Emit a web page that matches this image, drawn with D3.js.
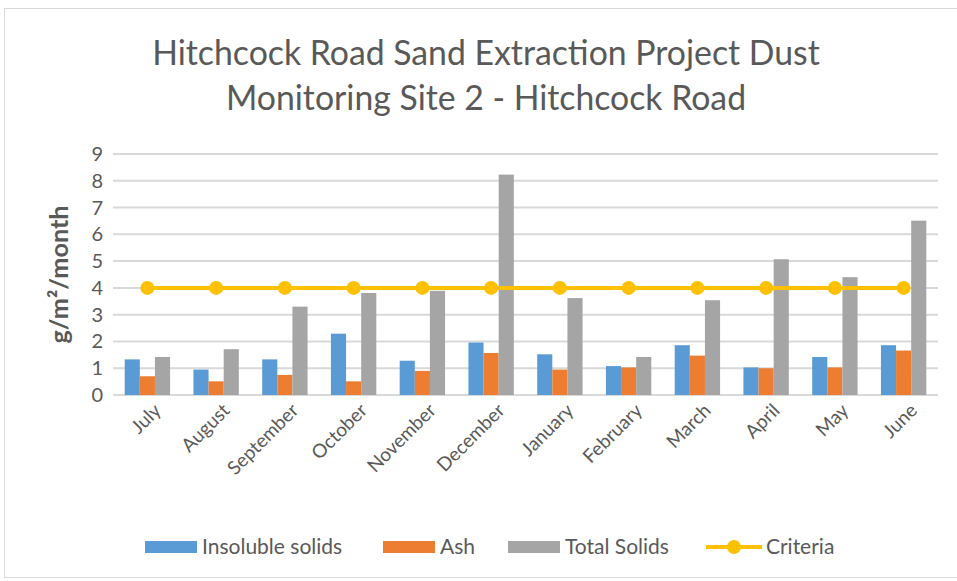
<!DOCTYPE html>
<html lang="en">
<head>
<meta charset="UTF-8">
<title>Dust Monitoring Site 2</title>
<style>
  body { margin: 0; background: #fff; }
  svg text { font-family: Lato, "Open Sans", sans-serif; fill: #595959; }
</style>
</head>
<body>
<div id="chart"></div>
<script src="https://d3js.org/d3.v7.min.js"></script>
<script>
// data
var months = ['July', 'August', 'September', 'October', 'November', 'December',
  'January', 'February', 'March', 'April', 'May', 'June']
var seriesNames = ['Insoluble solids', 'Ash', 'Total Solids']
var insoluble = [1.33, 0.95, 1.33, 2.29, 1.28, 1.96, 1.52, 1.08, 1.86, 1.03, 1.42, 1.86]
var ash = [0.70, 0.51, 0.75, 0.51, 0.90, 1.57, 0.95, 1.03, 1.47, 1.00, 1.03, 1.66]
var totalSolids = [1.42, 1.71, 3.30, 3.81, 3.89, 8.23, 3.62, 1.42, 3.54, 5.07, 4.40, 6.51]
var criteria = [4, 4, 4, 4, 4, 4, 4, 4, 4, 4, 4, 4]
var yTicks = [0, 1, 2, 3, 4, 5, 6, 7, 8, 9]

var colors = { 'Insoluble solids': '#5B9BD5', 'Ash': '#ED7D31', 'Total Solids': '#A5A5A5', 'Criteria': '#FFC000' }

function draw () {
  var W = 957, H = 581
  var plotLeft = 113, plotRight = 938, plotTop = 154, plotBottom = 395

  var svg = d3.select('#chart').append('svg')
    .attr('width', W).attr('height', H)

  // chart border
  svg.append('rect')
    .attr('x', 4.5).attr('y', 8.5)
    .attr('width', W + 10).attr('height', H - 12)
    .attr('fill', '#fff').attr('stroke', '#d9d9d9')

  // fit text to a target width by scaling the font size
  function fit (sel, width) {
    var fs = parseFloat(sel.style('font-size'))
    var w = sel.node().getComputedTextLength()
    sel.style('font-size', (fs * width / w) + 'px')
  }

  // title
  var t1 = svg.append('text').attr('x', 486).attr('y', 65).attr('text-anchor', 'middle')
    .style('font-size', '28px').text('Hitchcock Road Sand Extraction Project Dust')
  fit(t1, 668)
  svg.append('text').attr('x', 486).attr('y', 110).attr('text-anchor', 'middle')
    .style('font-size', t1.style('font-size')).text('Monitoring Site 2 - Hitchcock Road')

  var x = d3.scaleBand().domain(months).range([plotLeft, plotRight]).paddingInner(0.34).paddingOuter(0.17)
  var xs = d3.scaleBand().domain(seriesNames).range([0, x.bandwidth()])
  var y = d3.scaleLinear().domain([0, 9]).range([plotBottom, plotTop])

  // gridlines
  svg.append('g').selectAll('line').data(yTicks).join('line')
    .attr('x1', plotLeft).attr('x2', plotRight)
    .attr('y1', d => y(d)).attr('y2', d => y(d))
    .attr('stroke', '#d9d9d9').attr('stroke-width', 2)

  // y axis tick labels
  svg.append('g').selectAll('text').data(yTicks).join('text')
    .attr('x', 103).attr('y', d => y(d)).attr('dy', '0.35em')
    .attr('text-anchor', 'end')
    .style('font-size', '20px')
    .text(d => d)

  // y axis title
  var yt = svg.append('text')
    .attr('transform', 'translate(68,' + ((plotTop + plotBottom) / 2) + ') rotate(-90)')
    .attr('text-anchor', 'middle')
    .style('font-size', '20px')
    .style('font-weight', 'bold')
    .text('g/m²/month')
  fit(yt, 138)

  // bars
  var seriesData = [insoluble, ash, totalSolids]
  seriesNames.forEach(function (name, si) {
    svg.append('g').selectAll('rect').data(seriesData[si]).join('rect')
      .attr('x', (d, i) => x(months[i]) + xs(name))
      .attr('y', d => y(d))
      .attr('width', xs.bandwidth())
      .attr('height', d => plotBottom - y(d))
      .attr('fill', colors[name])
  })

  // criteria line
  var line = d3.line()
    .x((d, i) => x(months[i]) + x.bandwidth() / 2)
    .y(d => y(d))
  svg.append('path').datum(criteria)
    .attr('d', line).attr('fill', 'none')
    .attr('stroke', colors.Criteria).attr('stroke-width', 4)
  svg.append('g').selectAll('circle').data(criteria).join('circle')
    .attr('cx', (d, i) => x(months[i]) + x.bandwidth() / 2)
    .attr('cy', d => y(d))
    .attr('r', 7)
    .attr('fill', colors.Criteria)

  // x axis labels
  svg.append('g').selectAll('text').data(months).join('text')
    .attr('transform', d => 'translate(' + (x(d) + x.bandwidth() / 2 + 10) + ',' + (plotBottom + 12) + ') rotate(-45)')
    .attr('text-anchor', 'end')
    .attr('dy', '0.35em')
    .style('font-size', '19px')
    .text(d => d)

  // legend
  var legendItems = [
    { name: 'Insoluble solids', x: 145 },
    { name: 'Ash', x: 383 },
    { name: 'Total Solids', x: 508 },
    { name: 'Criteria', x: 706 }
  ]
  var ly = 547
  legendItems.forEach(function (it) {
    if (it.name === 'Criteria') {
      svg.append('line').attr('x1', it.x).attr('x2', it.x + 56)
        .attr('y1', ly).attr('y2', ly)
        .attr('stroke', colors.Criteria).attr('stroke-width', 4)
      svg.append('circle').attr('cx', it.x + 28).attr('cy', ly).attr('r', 7)
        .attr('fill', colors.Criteria)
    } else {
      svg.append('rect').attr('x', it.x).attr('y', ly - 6)
        .attr('width', 52).attr('height', 12).attr('fill', colors[it.name])
    }
    svg.append('text').attr('x', it.x + (it.name === 'Criteria' ? 60 : 57)).attr('y', ly)
      .attr('dy', '0.35em').style('font-size', '21px').text(it.name)
  })
}
draw()
</script>
</body>
</html>
